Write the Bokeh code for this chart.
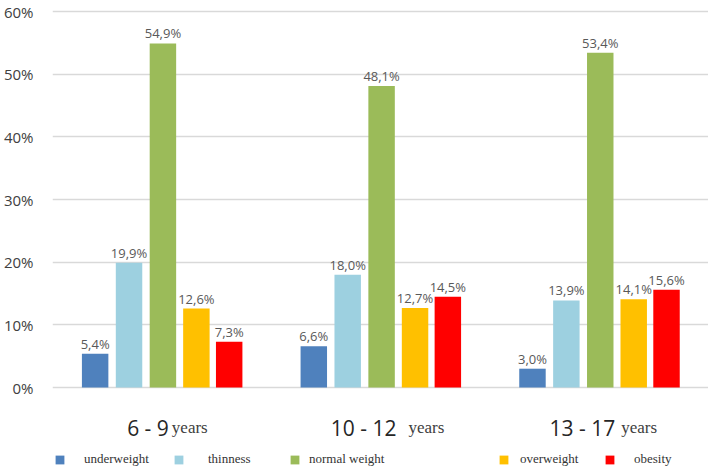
from bokeh.plotting import figure
from bokeh.models import (ColumnDataSource, FactorRange, Range1d, Label, Legend,
                          LegendItem, PrintfTickFormatter, FixedTicker)
from bokeh.transform import dodge
from bokeh.embed import file_html
from bokeh.resources import INLINE

# ---- data ----
groups = ["6 - 9", "10 - 12", "13 - 17"]
group_unit = "years"
series = ["underweight", "thinness", "normal weight", "overweight", "obesity"]
underweight = [5.4, 6.6, 3.0]
thinness = [19.9, 18.0, 13.9]
normal_weight = [54.9, 48.1, 53.4]
overweight = [12.6, 12.7, 14.1]
obesity = [7.3, 14.5, 15.6]
y_ticks = [0, 10, 20, 30, 40, 50, 60]

values = [underweight, thinness, normal_weight, overweight, obesity]
colors = ["#4f81bd", "#9dd0e0", "#9bbb59", "#ffc000", "#ff0000"]
offsets = [-0.305, -0.15, 0.005, 0.158, 0.308]

W, H = 708, 470
px_top_tick = 11     # pixel row of the 60% line
px_zero = 387        # pixel row of the 0% line
ppu = (px_zero - px_top_tick) / 60.0
y_top = 60 + px_top_tick / ppu
y_bottom = -(H - px_zero) / ppu   # room below 0 for labels/legend

p = figure(width=W, height=H, output_backend="svg", toolbar_location=None,
           x_range=FactorRange(*groups), y_range=Range1d(y_bottom, y_top),
           min_border_left=52, min_border_right=0, min_border_top=0,
           min_border_bottom=0)
p.outline_line_color = None
p.xgrid.grid_line_color = None
p.ygrid.grid_line_color = "#d9d9d9"
p.ygrid.grid_line_width = 1.5
p.xaxis.visible = False

yax = p.yaxis[0]
yax.ticker = FixedTicker(ticks=y_ticks)
yax.formatter = PrintfTickFormatter(format="%d%%")
yax.axis_line_color = None
yax.major_tick_line_color = None
yax.minor_tick_line_color = None
yax.major_label_standoff = 13
yax.major_label_text_font = "Open Sans"
yax.major_label_text_font_size = "15px"
yax.major_label_text_color = "#404040"

renderers = []
for name, vals, col, off in zip(series, values, colors, offsets):
    src = ColumnDataSource(dict(
        group=groups, value=vals,
        label=[("%.1f%%" % v).replace(".", ",") for v in vals]))
    r = p.vbar(x=dodge("group", off, range=p.x_range), top="value", bottom=0,
               width=0.121, source=src, fill_color=col, line_color=None)
    p.text(x=dodge("group", off, range=p.x_range), y="value", text="label",
           source=src, text_align="center", text_baseline="alphabetic",
           y_offset=-10, text_font_size="13px", text_color="#595959",
           text_font={"value": "Open Sans"})
    renderers.append(r)

# category labels (number part sans, unit serif); x in the range's synthetic units
num_off = [7, 16, 16]
unit_off = [10, 28, 22]
for i, (g, no, uo) in enumerate(zip(groups, num_off, unit_off)):
    gx = i + 0.5
    p.add_layout(Label(x=gx, y=H - 427, y_units="screen", text=g, x_offset=no,
                       text_align="right", text_baseline="alphabetic",
                       text_font="Open Sans", text_font_size="21px",
                       text_color="#262626"))
    p.add_layout(Label(x=gx, y=H - 427, y_units="screen", text=group_unit,
                       x_offset=uo, text_align="left", text_baseline="alphabetic",
                       text_font="Liberation Serif", text_font_size="17px",
                       text_color="#404040"))

# legends, one per item
leg_x = [2, 121, 237, 446, 552]
leg_standoff = [19, 24, 9, 11, 19]
for name, r, lx, ls in zip(series, renderers, leg_x, leg_standoff):
    lg = Legend(items=[LegendItem(label=name, renderers=[r])],
                location=(lx, 3), orientation="horizontal",
                glyph_width=11, glyph_height=11, label_standoff=ls,
                padding=0, margin=0, border_line_color=None,
                background_fill_alpha=0,
                label_text_font="Liberation Serif", label_text_font_size="13px",
                label_text_color="#333333")
    p.add_layout(lg, "center")

open("out.html", "w").write(file_html(p, INLINE))
